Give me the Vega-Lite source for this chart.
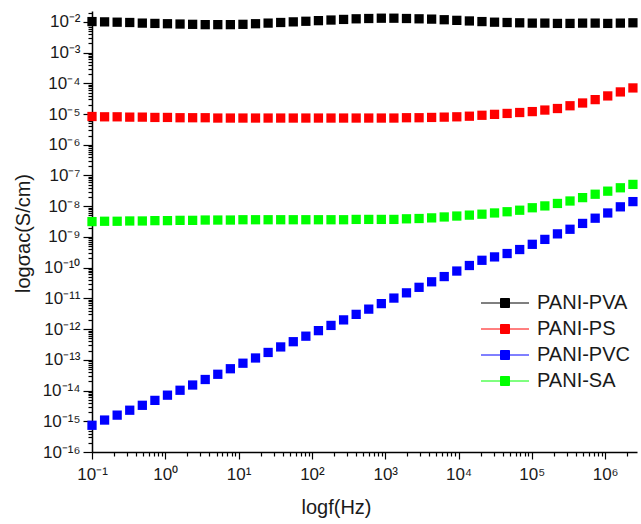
{
  "$schema": "https://vega.github.io/schema/vega-lite/v6.json",
  "autosize": {"type": "none"},
  "width": 545,
  "height": 441,
  "padding": {"left": 92, "top": 11, "right": 4, "bottom": 72},
  "background": "white",
  "config": {"view": {"stroke": null}, "font": "Liberation Sans"},
  "data": {"values": [
    {"f":0.1,"s":"PANI-PVA","v":1.023e-2},{"f":0.1485,"s":"PANI-PVA","v":1.000e-2},{"f":0.2204,"s":"PANI-PVA","v":9.77e-3},{"f":0.3272,"s":"PANI-PVA","v":9.55e-3},{"f":0.4858,"s":"PANI-PVA","v":9.12e-3},{"f":0.7211,"s":"PANI-PVA","v":8.91e-3},{"f":1.070,"s":"PANI-PVA","v":8.71e-3},{"f":1.589,"s":"PANI-PVA","v":8.51e-3},{"f":2.360,"s":"PANI-PVA","v":8.32e-3},{"f":3.503,"s":"PANI-PVA","v":8.13e-3},
    {"f":5.200,"s":"PANI-PVA","v":8.13e-3},{"f":7.720,"s":"PANI-PVA","v":8.13e-3},{"f":11.46,"s":"PANI-PVA","v":8.32e-3},{"f":17.01,"s":"PANI-PVA","v":8.71e-3},{"f":25.26,"s":"PANI-PVA","v":9.12e-3},{"f":37.50,"s":"PANI-PVA","v":9.55e-3},{"f":55.67,"s":"PANI-PVA","v":1.000e-2},{"f":82.65,"s":"PANI-PVA","v":1.047e-2},{"f":122.7,"s":"PANI-PVA","v":1.096e-2},{"f":182.1,"s":"PANI-PVA","v":1.148e-2},
    {"f":270.4,"s":"PANI-PVA","v":1.202e-2},{"f":401.4,"s":"PANI-PVA","v":1.259e-2},{"f":595.9,"s":"PANI-PVA","v":1.288e-2},{"f":884.7,"s":"PANI-PVA","v":1.318e-2},{"f":1313,"s":"PANI-PVA","v":1.318e-2},{"f":1950,"s":"PANI-PVA","v":1.288e-2},{"f":2895,"s":"PANI-PVA","v":1.259e-2},{"f":4297,"s":"PANI-PVA","v":1.230e-2},{"f":6380,"s":"PANI-PVA","v":1.175e-2},{"f":9471,"s":"PANI-PVA","v":1.122e-2},
    {"f":14060,"s":"PANI-PVA","v":1.072e-2},{"f":20870,"s":"PANI-PVA","v":1.023e-2},{"f":30990,"s":"PANI-PVA","v":9.77e-3},{"f":46000,"s":"PANI-PVA","v":9.55e-3},{"f":68300,"s":"PANI-PVA","v":9.33e-3},{"f":101400,"s":"PANI-PVA","v":9.12e-3},{"f":150500,"s":"PANI-PVA","v":9.12e-3},{"f":223500,"s":"PANI-PVA","v":8.91e-3},{"f":331700,"s":"PANI-PVA","v":8.91e-3},{"f":492500,"s":"PANI-PVA","v":9.12e-3},
    {"f":731100,"s":"PANI-PVA","v":9.12e-3},{"f":1085000,"s":"PANI-PVA","v":8.91e-3},{"f":1612000,"s":"PANI-PVA","v":9.12e-3},{"f":2393000,"s":"PANI-PVA","v":9.33e-3},

    {"f":0.1,"s":"PANI-PS","v":8.32e-6},{"f":0.1485,"s":"PANI-PS","v":8.13e-6},{"f":0.2204,"s":"PANI-PS","v":8.13e-6},{"f":0.3272,"s":"PANI-PS","v":7.94e-6},{"f":0.4858,"s":"PANI-PS","v":7.94e-6},{"f":0.7211,"s":"PANI-PS","v":7.76e-6},{"f":1.070,"s":"PANI-PS","v":7.76e-6},{"f":1.589,"s":"PANI-PS","v":7.59e-6},{"f":2.360,"s":"PANI-PS","v":7.59e-6},{"f":3.503,"s":"PANI-PS","v":7.59e-6},
    {"f":5.200,"s":"PANI-PS","v":7.41e-6},{"f":7.720,"s":"PANI-PS","v":7.41e-6},{"f":11.46,"s":"PANI-PS","v":7.41e-6},{"f":17.01,"s":"PANI-PS","v":7.41e-6},{"f":25.26,"s":"PANI-PS","v":7.41e-6},{"f":37.50,"s":"PANI-PS","v":7.41e-6},{"f":55.67,"s":"PANI-PS","v":7.41e-6},{"f":82.65,"s":"PANI-PS","v":7.41e-6},{"f":122.7,"s":"PANI-PS","v":7.41e-6},{"f":182.1,"s":"PANI-PS","v":7.41e-6},
    {"f":270.4,"s":"PANI-PS","v":7.41e-6},{"f":401.4,"s":"PANI-PS","v":7.41e-6},{"f":595.9,"s":"PANI-PS","v":7.41e-6},{"f":884.7,"s":"PANI-PS","v":7.41e-6},{"f":1313,"s":"PANI-PS","v":7.41e-6},{"f":1950,"s":"PANI-PS","v":7.59e-6},{"f":2895,"s":"PANI-PS","v":7.59e-6},{"f":4297,"s":"PANI-PS","v":7.76e-6},{"f":6380,"s":"PANI-PS","v":7.94e-6},{"f":9471,"s":"PANI-PS","v":8.13e-6},
    {"f":14060,"s":"PANI-PS","v":8.51e-6},{"f":20870,"s":"PANI-PS","v":9.12e-6},{"f":30990,"s":"PANI-PS","v":9.77e-6},{"f":46000,"s":"PANI-PS","v":1.047e-5},{"f":68300,"s":"PANI-PS","v":1.122e-5},{"f":101400,"s":"PANI-PS","v":1.202e-5},{"f":150500,"s":"PANI-PS","v":1.349e-5},{"f":223500,"s":"PANI-PS","v":1.514e-5},{"f":331700,"s":"PANI-PS","v":1.862e-5},{"f":492500,"s":"PANI-PS","v":2.291e-5},
    {"f":731100,"s":"PANI-PS","v":2.951e-5},{"f":1085000,"s":"PANI-PS","v":3.890e-5},{"f":1612000,"s":"PANI-PS","v":5.248e-5},{"f":2393000,"s":"PANI-PS","v":7.079e-5},

    {"f":0.1,"s":"PANI-PVC","v":7.41e-16},{"f":0.1485,"s":"PANI-PVC","v":1.096e-15},{"f":0.2204,"s":"PANI-PVC","v":1.585e-15},{"f":0.3272,"s":"PANI-PVC","v":2.291e-15},{"f":0.4858,"s":"PANI-PVC","v":3.311e-15},{"f":0.7211,"s":"PANI-PVC","v":4.786e-15},{"f":1.070,"s":"PANI-PVC","v":7.079e-15},{"f":1.589,"s":"PANI-PVC","v":1.023e-14},{"f":2.360,"s":"PANI-PVC","v":1.514e-14},{"f":3.503,"s":"PANI-PVC","v":2.291e-14},
    {"f":5.200,"s":"PANI-PVC","v":3.388e-14},{"f":7.720,"s":"PANI-PVC","v":5.129e-14},{"f":11.46,"s":"PANI-PVC","v":7.762e-14},{"f":17.01,"s":"PANI-PVC","v":1.148e-13},{"f":25.26,"s":"PANI-PVC","v":1.738e-13},{"f":37.50,"s":"PANI-PVC","v":2.630e-13},{"f":55.67,"s":"PANI-PVC","v":3.890e-13},{"f":82.65,"s":"PANI-PVC","v":5.888e-13},{"f":122.7,"s":"PANI-PVC","v":8.913e-13},{"f":182.1,"s":"PANI-PVC","v":1.318e-12},
    {"f":270.4,"s":"PANI-PVC","v":1.995e-12},{"f":401.4,"s":"PANI-PVC","v":3.020e-12},{"f":595.9,"s":"PANI-PVC","v":4.467e-12},{"f":884.7,"s":"PANI-PVC","v":6.761e-12},{"f":1313,"s":"PANI-PVC","v":1.023e-11},{"f":1950,"s":"PANI-PVC","v":1.514e-11},{"f":2895,"s":"PANI-PVC","v":2.291e-11},{"f":4297,"s":"PANI-PVC","v":3.467e-11},{"f":6380,"s":"PANI-PVC","v":5.129e-11},{"f":9471,"s":"PANI-PVC","v":7.762e-11},
    {"f":14060,"s":"PANI-PVC","v":1.175e-10},{"f":20870,"s":"PANI-PVC","v":1.738e-10},{"f":30990,"s":"PANI-PVC","v":2.239e-10},{"f":46000,"s":"PANI-PVC","v":2.884e-10},{"f":68300,"s":"PANI-PVC","v":3.890e-10},{"f":101400,"s":"PANI-PVC","v":5.754e-10},{"f":150500,"s":"PANI-PVC","v":8.318e-10},{"f":223500,"s":"PANI-PVC","v":1.259e-9},{"f":331700,"s":"PANI-PVC","v":1.778e-9},{"f":492500,"s":"PANI-PVC","v":2.754e-9},
    {"f":731100,"s":"PANI-PVC","v":4.074e-9},{"f":1085000,"s":"PANI-PVC","v":6.026e-9},{"f":1612000,"s":"PANI-PVC","v":9.550e-9},{"f":2393000,"s":"PANI-PVC","v":1.413e-8},

    {"f":0.1,"s":"PANI-SA","v":3.16e-9},{"f":0.1485,"s":"PANI-SA","v":3.24e-9},{"f":0.2204,"s":"PANI-SA","v":3.24e-9},{"f":0.3272,"s":"PANI-SA","v":3.31e-9},{"f":0.4858,"s":"PANI-SA","v":3.31e-9},{"f":0.7211,"s":"PANI-SA","v":3.39e-9},{"f":1.070,"s":"PANI-SA","v":3.39e-9},{"f":1.589,"s":"PANI-SA","v":3.47e-9},{"f":2.360,"s":"PANI-SA","v":3.47e-9},{"f":3.503,"s":"PANI-SA","v":3.55e-9},
    {"f":5.200,"s":"PANI-SA","v":3.55e-9},{"f":7.720,"s":"PANI-SA","v":3.55e-9},{"f":11.46,"s":"PANI-SA","v":3.63e-9},{"f":17.01,"s":"PANI-SA","v":3.63e-9},{"f":25.26,"s":"PANI-SA","v":3.63e-9},{"f":37.50,"s":"PANI-SA","v":3.63e-9},{"f":55.67,"s":"PANI-SA","v":3.63e-9},{"f":82.65,"s":"PANI-SA","v":3.63e-9},{"f":122.7,"s":"PANI-SA","v":3.63e-9},{"f":182.1,"s":"PANI-SA","v":3.63e-9},
    {"f":270.4,"s":"PANI-SA","v":3.63e-9},{"f":401.4,"s":"PANI-SA","v":3.72e-9},{"f":595.9,"s":"PANI-SA","v":3.72e-9},{"f":884.7,"s":"PANI-SA","v":3.72e-9},{"f":1313,"s":"PANI-SA","v":3.72e-9},{"f":1950,"s":"PANI-SA","v":3.89e-9},{"f":2895,"s":"PANI-SA","v":3.98e-9},{"f":4297,"s":"PANI-SA","v":4.17e-9},{"f":6380,"s":"PANI-SA","v":4.47e-9},{"f":9471,"s":"PANI-SA","v":4.79e-9},
    {"f":14060,"s":"PANI-SA","v":5.13e-9},{"f":20870,"s":"PANI-SA","v":5.50e-9},{"f":30990,"s":"PANI-SA","v":6.03e-9},{"f":46000,"s":"PANI-SA","v":6.61e-9},{"f":68300,"s":"PANI-SA","v":7.41e-9},{"f":101400,"s":"PANI-SA","v":8.91e-9},{"f":150500,"s":"PANI-SA","v":1.023e-8},{"f":223500,"s":"PANI-SA","v":1.230e-8},{"f":331700,"s":"PANI-SA","v":1.479e-8},{"f":492500,"s":"PANI-SA","v":1.905e-8},
    {"f":731100,"s":"PANI-SA","v":2.455e-8},{"f":1085000,"s":"PANI-SA","v":3.090e-8},{"f":1612000,"s":"PANI-SA","v":3.981e-8},{"f":2393000,"s":"PANI-SA","v":5.129e-8}
  ]},
  "mark": {"type": "point", "shape": "square", "filled": true, "size": 86, "opacity": 1, "strokeWidth": 0},
  "encoding": {
    "x": {
      "field": "f", "type": "quantitative",
      "scale": {"type": "log", "domain": [0.1, 2720000], "nice": false, "zero": false},
      "axis": {
        "title": "logf(Hz)",
        "titleFontSize": 20, "titleFontWeight": "normal", "titleColor": "#1a1a1a",
        "titleX": 244, "titleY": 61, "titleAlign": "center", "titleBaseline": "alphabetic", "titleAnchor": null,
        "grid": false, "domainColor": "#000000", "domainWidth": 1.5,
        "tickColor": "#000000", "tickWidth": 1.2,
        "tickSize": {"condition": {"test": "abs(log(datum.value)/LN10 - round(log(datum.value)/LN10)) < 0.001", "value": 7}, "value": 4},
        "labelFontSize": 17, "labelColor": "#1a1a1a", "labelPadding": 7, "labelOverlap": false, "labelFlush": false,
        "labelExpr": "abs(log(datum.value)/LN10 - round(log(datum.value)/LN10)) < 0.001 ? '10' + (round(log(datum.value)/LN10) < 0 ? '⁻' : '') + ['⁰','¹','²','³','⁴','⁵','⁶','⁷','⁸','⁹','¹⁰','¹¹','¹²','¹³','¹⁴','¹⁵','¹⁶'][abs(round(log(datum.value)/LN10))] : ''",
        "values": [0.1,0.2,0.3,0.4,0.5,0.6,0.7,0.8,0.9,1,2,3,4,5,6,7,8,9,10,20,30,40,50,60,70,80,90,100,200,300,400,500,600,700,800,900,1000,2000,3000,4000,5000,6000,7000,8000,9000,10000,20000,30000,40000,50000,60000,70000,80000,90000,100000,200000,300000,400000,500000,600000,700000,800000,900000,1000000,2000000]
      }
    },
    "y": {
      "field": "v", "type": "quantitative",
      "scale": {"type": "log", "domain": [1e-16, 0.0226], "nice": false, "zero": false},
      "axis": {
        "title": "logσac(S/cm)",
        "titleFontSize": 20, "titleFontWeight": "normal", "titleColor": "#1a1a1a",
        "titleAngle": -90, "titleX": -63, "titleY": 222, "titleAlign": "center", "titleBaseline": "alphabetic", "titleAnchor": null,
        "grid": false, "domainColor": "#000000", "domainWidth": 1.5,
        "tickColor": "#000000", "tickWidth": 1.2,
        "tickSize": {"condition": {"test": "abs(log(datum.value)/LN10 - round(log(datum.value)/LN10)) < 0.001", "value": 9}, "value": 4},
        "labelFontSize": 17, "labelColor": "#1a1a1a", "labelPadding": 3, "labelOverlap": false, "labelFlush": false,
        "labelExpr": "abs(log(datum.value)/LN10 - round(log(datum.value)/LN10)) < 0.001 ? '10' + (round(log(datum.value)/LN10) < 0 ? '⁻' : '') + ['⁰','¹','²','³','⁴','⁵','⁶','⁷','⁸','⁹','¹⁰','¹¹','¹²','¹³','¹⁴','¹⁵','¹⁶'][abs(round(log(datum.value)/LN10))] : ''",
        "values": [1e-16,2e-16,3e-16,4e-16,5e-16,6e-16,7e-16,8e-16,9e-16,1e-15,2e-15,3e-15,4e-15,5e-15,6e-15,7e-15,8e-15,9e-15,1e-14,2e-14,3e-14,4e-14,5e-14,6e-14,7e-14,8e-14,9e-14,1e-13,2e-13,3e-13,4e-13,5e-13,6e-13,7e-13,8e-13,9e-13,1e-12,2e-12,3e-12,4e-12,5e-12,6e-12,7e-12,8e-12,9e-12,1e-11,2e-11,3e-11,4e-11,5e-11,6e-11,7e-11,8e-11,9e-11,1e-10,2e-10,3e-10,4e-10,5e-10,6e-10,7e-10,8e-10,9e-10,1e-9,2e-9,3e-9,4e-9,5e-9,6e-9,7e-9,8e-9,9e-9,1e-8,2e-8,3e-8,4e-8,5e-8,6e-8,7e-8,8e-8,9e-8,1e-7,2e-7,3e-7,4e-7,5e-7,6e-7,7e-7,8e-7,9e-7,1e-6,2e-6,3e-6,4e-6,5e-6,6e-6,7e-6,8e-6,9e-6,1e-5,2e-5,3e-5,4e-5,5e-5,6e-5,7e-5,8e-5,9e-5,1e-4,2e-4,3e-4,4e-4,5e-4,6e-4,7e-4,8e-4,9e-4,1e-3,2e-3,3e-3,4e-3,5e-3,6e-3,7e-3,8e-3,9e-3,1e-2,2e-2]
      }
    },
    "color": {
      "field": "s", "type": "nominal",
      "scale": {"domain": ["PANI-PVA", "PANI-PS", "PANI-PVC", "PANI-SA"], "range": ["#000000", "#ff0000", "#0000ff", "#00ff00"]},
      "legend": {
        "title": null, "orient": "none", "legendX": 403, "legendY": 282,
        "symbolType": "M-4,0H4M-0.75,-0.75H0.75V0.75H-0.75Z",
        "symbolSize": 144, "symbolStrokeWidth": 1, "symbolOpacity": 1,
        "labelFontSize": 20, "labelColor": "#1a1a1a", "labelOffset": 22, "rowPadding": 6,
        "encode": {"symbols": {"update": {"stroke": {"scale": "color", "field": "value"}, "fill": {"scale": "color", "field": "value"}}}}
      }
    }
  }
}
